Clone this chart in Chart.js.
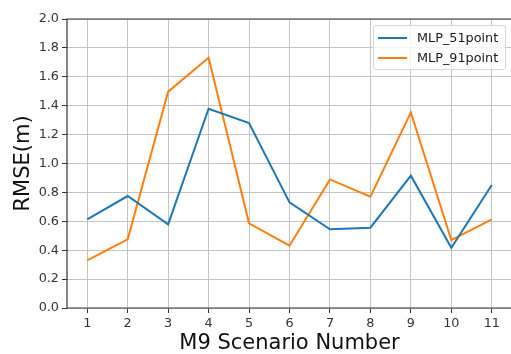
<!DOCTYPE html>
<html><head><meta charset="utf-8">
<script src="https://cdn.jsdelivr.net/npm/chart.js@4"></script>
<style>
html,body{margin:0;padding:0;background:#fff;overflow:hidden;}
#wrap{position:relative;width:513px;height:354px;}
#legend{position:absolute;left:373px;top:25px;width:133px;height:45px;border:1px solid #d6d6d6;border-radius:3px;background:rgba(255,255,255,0.8);font-family:"DejaVu Sans";font-size:12.8px;color:#1a1a1a;box-sizing:border-box;}
.li{position:absolute;left:4px;height:16px;display:flex;align-items:center;}
.sw{width:29px;height:2px;margin-right:10px;}
</style></head>
<body>
<div id="wrap"><canvas id="c" width="513" height="354"></canvas><div id="legend"></div></div>
<script>
const categories = [1,2,3,4,5,6,7,8,9,10,11];
const mlp51 = [0.614,0.775,0.579,1.379,1.28,0.731,0.545,0.556,0.916,0.417,0.851];
const mlp91 = [0.33,0.475,1.497,1.732,0.586,0.431,0.89,0.77,1.354,0.47,0.614];
const yTicks = [0.0,0.2,0.4,0.6,0.8,1.0,1.2,1.4,1.6,1.8,2.0];
const seriesNames = ['MLP_51point','MLP_91point'];
const colors = ['#1f77b4','#ff7f0e'];

const frame = {
  id:'frame',
  afterDraw(chart){
    const a = chart.chartArea, ctx = chart.ctx;
    ctx.save();
    ctx.strokeStyle = '#333';
    ctx.lineWidth = 1.2;
    ctx.beginPath();
    ctx.moveTo(a.left, a.bottom); ctx.lineTo(a.left, a.top); ctx.lineTo(a.right, a.top);
    ctx.moveTo(a.left, a.bottom); ctx.lineTo(a.right, a.bottom);
    ctx.stroke();
    ctx.restore();
  }
};

const mk = (vals) => vals.map((v,i)=>({x:categories[i], y:v}));
new Chart(document.getElementById('c'), {
  type:'line',
  data:{datasets:[
    {label:seriesNames[0], data:mk(mlp51), borderColor:colors[0], borderWidth:2, pointRadius:0, tension:0, fill:false},
    {label:seriesNames[1], data:mk(mlp91), borderColor:colors[1], borderWidth:2, pointRadius:0, tension:0, fill:false}
  ]},
  plugins:[frame],
  options:{
    responsive:false, animation:false,
    layout:{padding:{top:19,right:1,left:0,bottom:0}},
    plugins:{legend:{display:false}, tooltip:{enabled:false}},
    scales:{
      x:{type:'linear', min:0.5, max:11.5,
        afterBuildTicks(s){ s.ticks = categories.map(v=>({value:v})); },
        afterFit(s){ s.height = 46; },
        grid:{color:'#c4c4c4', lineWidth:1, drawTicks:true, tickLength:5, tickColor:'#333'},
        border:{display:false},
        ticks:{color:'#333', font:{family:'DejaVu Sans', size:12.8}, padding:3, maxRotation:0, autoSkip:false,
          callback:(v)=>String(v)},
        title:{display:true, text:'M9 Scenario Number', color:'#111', font:{family:'DejaVu Sans', size:21, lineHeight:1.0}, padding:{top:0,bottom:0}}
      },
      y:{type:'linear', min:0, max:2.0,
        afterBuildTicks(s){ s.ticks = yTicks.map(v=>({value:v})); },
        afterFit(s){ s.width = 67; },
        grid:{color:'#c4c4c4', lineWidth:1, drawTicks:true, tickLength:5, tickColor:'#333'},
        border:{display:false},
        ticks:{color:'#333', font:{family:'DejaVu Sans', size:12.8}, padding:3, autoSkip:false,
          callback:(v)=>Number(v).toFixed(1)},
        title:{display:true, text:'RMSE(m)', color:'#111', font:{family:'DejaVu Sans', size:21, lineHeight:1.0}, padding:{top:13,bottom:0}}
      }
    }
  }
});

const lg = document.getElementById('legend');
seriesNames.forEach((n,i)=>{
  const d = document.createElement('div');
  d.className='li'; d.style.top = (3.5 + i*20) + 'px';
  d.innerHTML = '<span class="sw" style="background:'+colors[i]+'"></span><span>'+n+'</span>';
  lg.appendChild(d);
});
</script>
</body></html>
